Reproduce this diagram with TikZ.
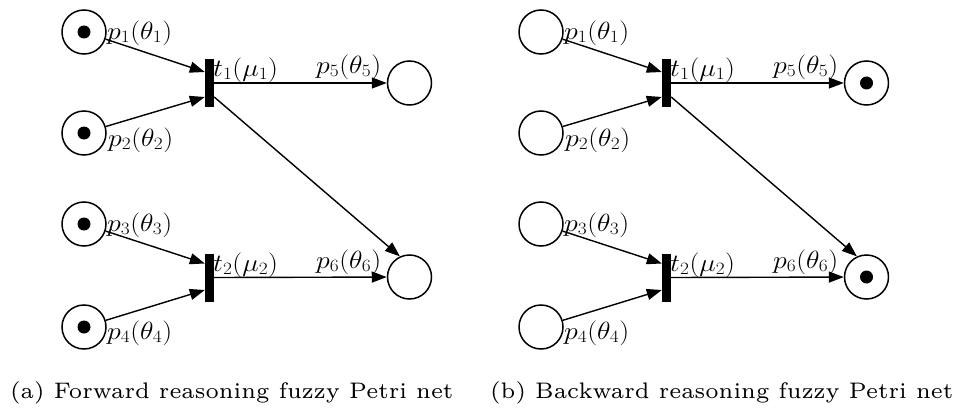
\documentclass[tikz,border=0pt]{standalone}
\usetikzlibrary{arrows.meta,calc}
\newcommand{\wlab}[1]{\scalebox{1.12}[1]{$#1$}}
\newcommand{\wcap}[1]{\scalebox{3.65}[3.75]{#1}}
\begin{document}
\begin{tikzpicture}[x=1pt,y=-1pt,
 place/.style={circle,draw,line width=1.5pt,minimum size=44pt,inner sep=0pt},
 token/.style={circle,fill,minimum size=13pt,inner sep=0pt},
 trans/.style={rectangle,fill,minimum width=9pt,minimum height=48pt,inner sep=0pt},
 arc/.style={line width=1.4pt,-{Triangle[length=15pt,width=11pt]}},
 lab/.style={inner sep=0pt,anchor=west,font=\fontsize{23}{26}\selectfont},
 captxt/.style={inner sep=0pt,anchor=base west,font=\fontsize{6}{7}\selectfont}]
\useasboundingbox (0,0) rectangle (960,409);
\foreach \s/\dx in {a/0,b/457}{
 \begin{scope}[xshift=\dx pt]
  \node[place] (\s-p1) at (84,32) {};
  \node[place] (\s-p2) at (84,133) {};
  \node[place] (\s-p3) at (84,224) {};
  \node[place] (\s-p4) at (84,327) {};
  \node[place] (\s-p5) at (409.5,83) {};
  \node[place] (\s-p6) at (409.5,277) {};
  \node[trans] (\s-t1) at (209.5,83) {};
  \node[trans] (\s-t2) at (209.5,277.5) {};
  \draw[arc] (\s-p1) -- ($(\s-t1.west)+(0,-11)$);
  \draw[arc] (\s-p2) -- ($(\s-t1.west)+(0,14)$);
  \draw[arc] (\s-p3) -- ($(\s-t2.west)+(0,-14)$);
  \draw[arc] (\s-p4) -- ($(\s-t2.west)+(0,12.5)$);
  \draw[arc] (\s-t1.east) -- (\s-p5);
  \draw[arc] ($(\s-t1.east)+(0,14)$) -- (\s-p6.115);
  \draw[arc] (\s-t2.east) -- (\s-p6);
  \node[lab] (\s-l1) at (107,33) {\wlab{p_1(\theta_1)}};
  \node[lab] (\s-l2) at (108,140) {\wlab{p_2(\theta_2)}};
  \node[lab] (\s-l3) at (107,225) {\wlab{p_3(\theta_3)}};
  \node[lab] (\s-l4) at (107,333) {\wlab{p_4(\theta_4)}};
  \node[lab] (\s-l5) at (316,67) {\wlab{p_5(\theta_5)}};
  \node[lab] (\s-l6) at (316,262) {\wlab{p_6(\theta_6)}};
  \node[lab] (\s-m1) at (213,70) {\wlab{t_1(\mu_1)}};
  \node[lab] (\s-m2) at (213,265) {\wlab{t_2(\mu_2)}};
 \end{scope}}
\node[token] (ka1) at (a-p1) {};
\node[token] (ka2) at (a-p2) {};
\node[token] (ka3) at (a-p3) {};
\node[token] (ka4) at (a-p4) {};
\node[token] (kb5) at (b-p5) {};
\node[token] (kb6) at (b-p6) {};
\node[captxt] (capa) at (10,398) {\wcap{(a) Forward reasoning fuzzy Petri net}};
\node[captxt] (capb) at (490,398) {\wcap{(b) Backward reasoning fuzzy Petri net}};
\end{tikzpicture}
\end{document}
